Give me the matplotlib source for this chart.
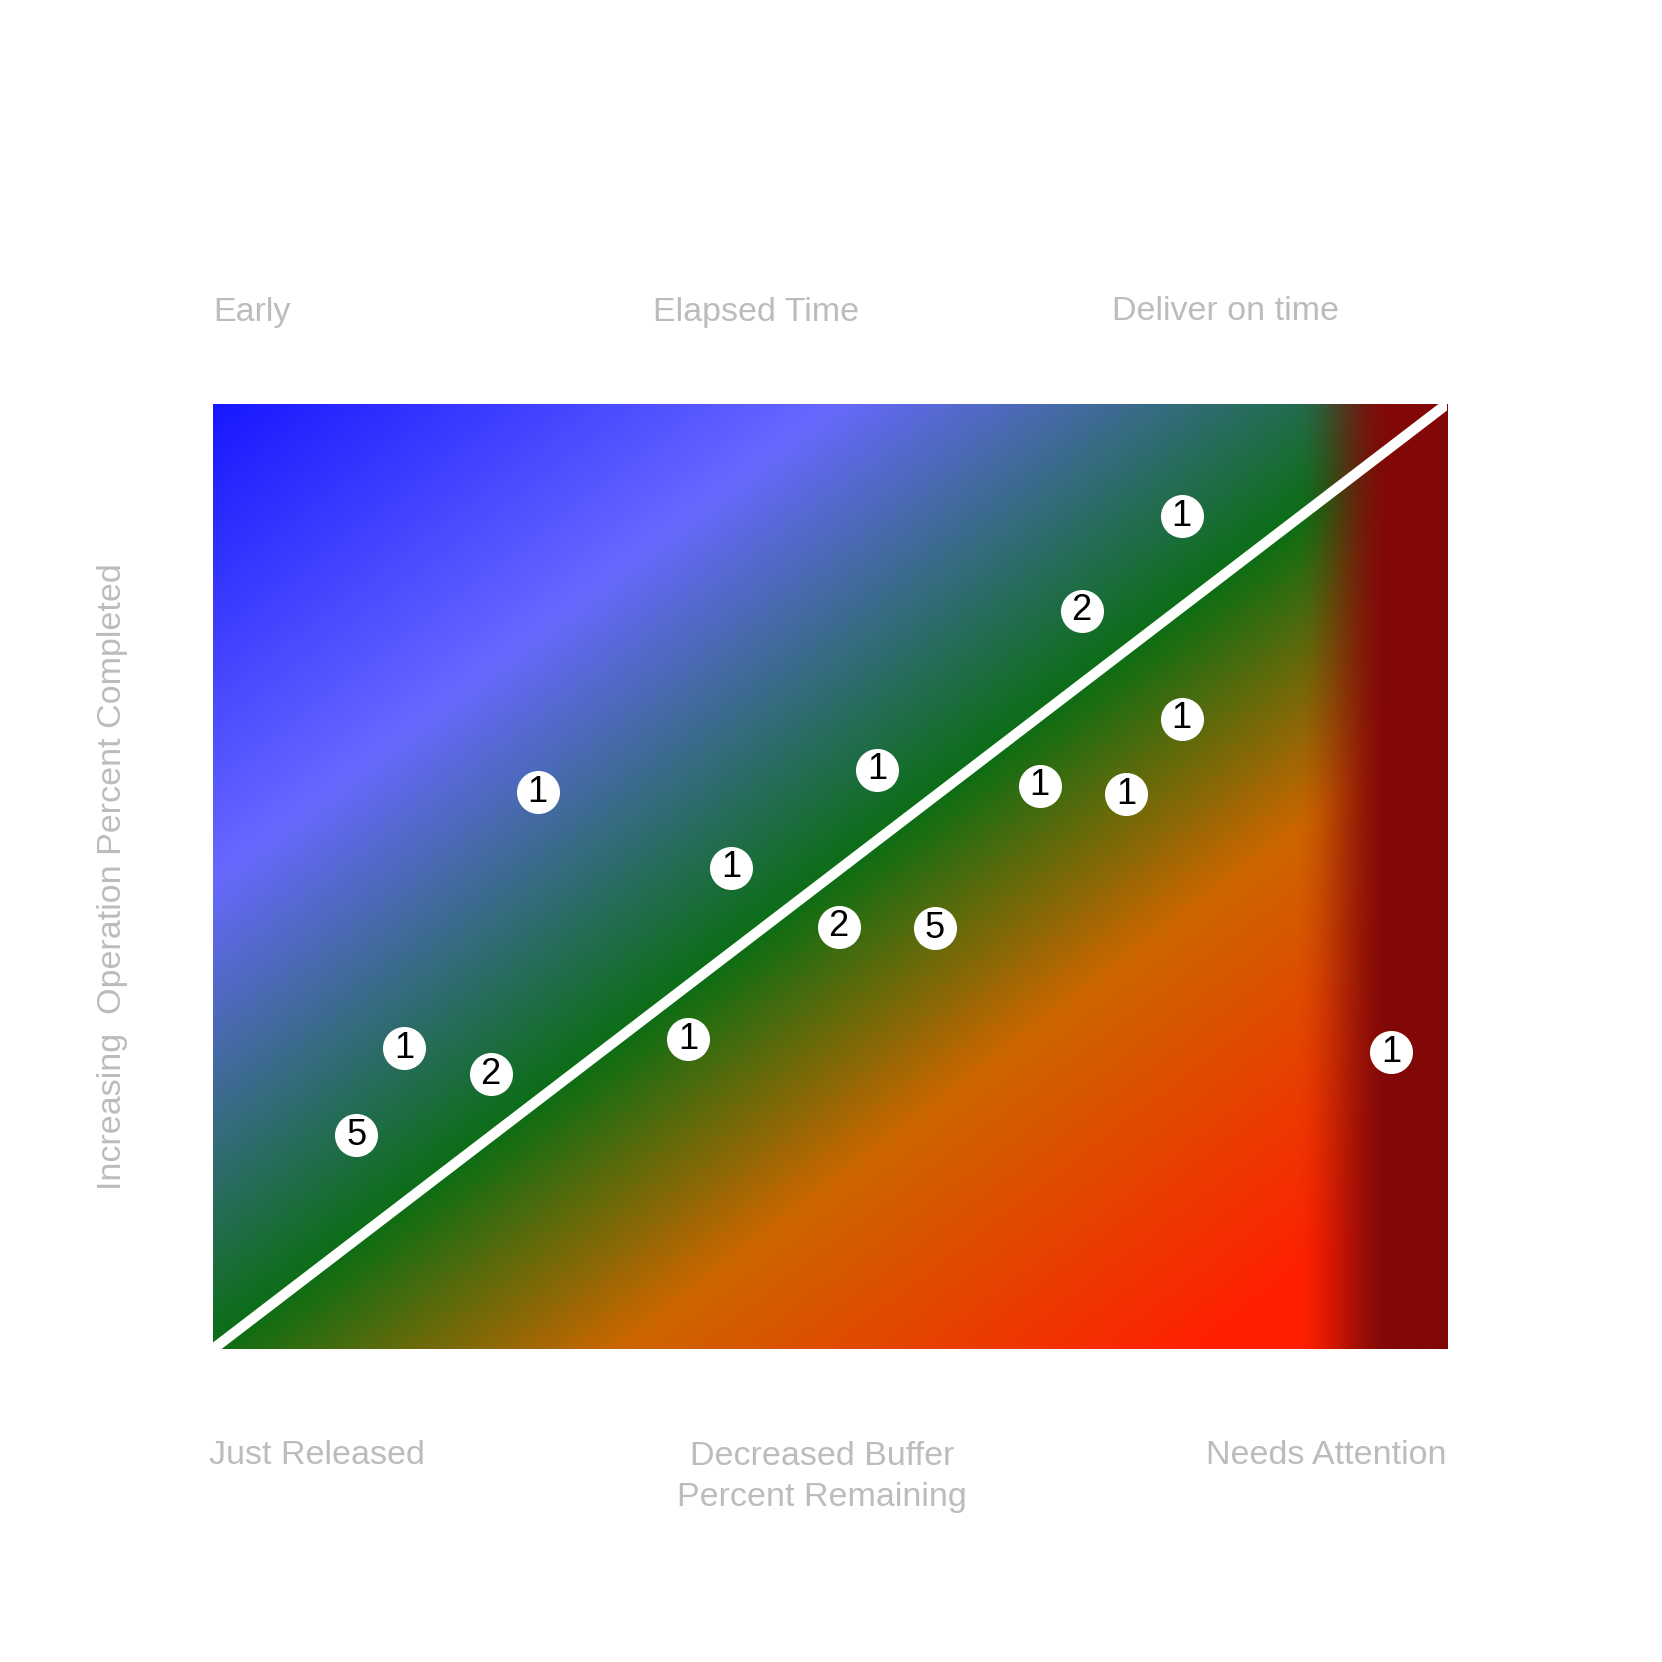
import numpy as np
import matplotlib
matplotlib.use("Agg")
import matplotlib.pyplot as plt
from matplotlib.colors import LinearSegmentedColormap, to_rgb

plt.rcParams['font.family'] = ['Liberation Sans', 'DejaVu Sans']

# order counts placed on the buffer chart (x = buffer consumed %, y = operation completed %)
pos_x = [78.5, 70.4, 78.5, 53.8, 67.0, 74.0, 26.3, 42.0, 50.7, 58.5, 38.5, 15.5, 22.5, 11.6, 95.5]
pos_y = [88.1, 78.1, 66.7, 61.3, 59.6, 58.7, 58.9, 50.9, 44.7, 44.5, 32.8, 31.8, 29.1, 22.6, 31.4]
counts = ["1", "2", "1", "1", "1", "1", "1", "1", "2", "5", "1", "1", "2", "5", "1"]

# background colour stops, along (y - x) / 100
stop_pos = [-1.0, -0.8, -0.33, 0.0, 0.5, 1.0]
stop_col = ["#ff2000", "#ff2000", "#cc6600", "#0b6e14", "#6868ff", "#1818ff"]
band_col = "#820808"

top_labels = ["Early", "Elapsed Time", "Deliver on time"]
bottom_labels = ["Just Released", "Decreased Buffer\nPercent Remaining", "Needs Attention"]
y_label = "Increasing  Operation Percent Completed"
label_col = "#bcbcbc"

fig = plt.figure(figsize=(16.62, 16.62), dpi=100)
ax = fig.add_axes([213/1662, 1 - 1349/1662, 1234/1662, 945/1662])

# build the diagonal gradient
n = 800
u = np.linspace(0, 1, n)
v = np.linspace(1, 0, n)
U, V = np.meshgrid(u, v)
s = V - U
cmap = LinearSegmentedColormap.from_list(
    "buf", [((p + 1) / 2, c) for p, c in zip(stop_pos, stop_col)])
img = cmap((s + 1) / 2)[..., :3]

# dark red "needs attention" band on the right
alpha = np.clip((U - 0.875) / (0.955 - 0.875), 0, 1)
alpha = alpha * alpha * (3 - 2 * alpha)
dark = np.array(to_rgb(band_col))
img = img * (1 - alpha[..., None]) + dark * alpha[..., None]

ax.imshow(img, extent=[0, 100, 0, 100], aspect='auto', interpolation='bilinear', zorder=0)
ax.plot([0, 100], [0, 100], color="white", lw=7.5, solid_capstyle='butt', zorder=2)

ax.plot(pos_x, pos_y, 'o', ms=31, mfc='white', mec='none', zorder=3)
for x, y, c in zip(pos_x, pos_y, counts):
    ax.text(x, y, c, ha='center', va='center', fontsize=26, color='black', zorder=4)

ax.set_xlim(0, 100)
ax.set_ylim(0, 100)
ax.axis('off')

fs = 24.5
fig.text(213/1662, 1 - 312/1662, top_labels[0], ha='left', va='center', fontsize=fs, color=label_col)
fig.text(756/1662, 1 - 312/1662, top_labels[1], ha='center', va='center', fontsize=fs, color=label_col)
fig.text(1226/1662, 1 - 312/1662, top_labels[2], ha='center', va='center', fontsize=fs, color=label_col)
fig.text(209/1662, 1 - 1456/1662, bottom_labels[0], ha='left', va='center', fontsize=fs, color=label_col)
fig.text(822/1662, 1 - 1477/1662, bottom_labels[1], ha='center', va='center', fontsize=fs,
         color=label_col, linespacing=1.4)
fig.text(1446/1662, 1 - 1456/1662, bottom_labels[2], ha='right', va='center', fontsize=fs, color=label_col)
fig.text(113/1662, 1 - 877/1662, y_label, ha='center', va='center', rotation=90, fontsize=fs, color=label_col)

fig.savefig("out.png", dpi=100, facecolor='white')
